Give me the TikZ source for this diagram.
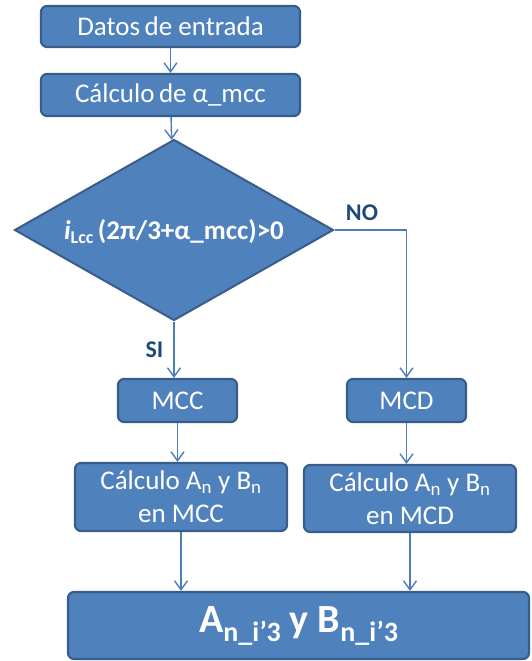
\documentclass[tikz,border=0pt]{standalone}
\usepackage{fontspec}
\setmainfont{Carlito}
\usetikzlibrary{shapes.geometric,arrows.meta}
\definecolor{boxfill}{HTML}{4F81BD}
\definecolor{boxedge}{HTML}{385D8A}
\definecolor{wire}{HTML}{4A7EBB}
\definecolor{labelblue}{HTML}{1F497D}
\tikzset{
  stepbox/.style={draw=boxedge, line width=2.2pt, fill=boxfill, rounded corners=6pt,
    text=white, align=center, inner sep=0pt, font=\fontsize{27}{29}\selectfont},
  decision/.style={diamond, draw=boxedge, line width=2pt, fill=boxfill, inner sep=0pt},
  decisiontext/.style={text=white, inner sep=0pt, font=\bfseries\fontsize{27}{29}\selectfont},
  flow/.style={draw=wire, line width=1.4pt, -{Straight Barb[length=9pt,width=13pt,line width=1.4pt]}},
  branch/.style={text=labelblue, font=\bfseries\fontsize{24}{26}\selectfont},
}
\begin{document}
\begin{tikzpicture}[x=1pt,y=-1pt]
\useasboundingbox (0,0) rectangle (531,661);
\node[stepbox, minimum width=259pt, minimum height=41pt] (datos) at (170.5,26.5) {Datos\,de entrada};
\node[stepbox, minimum width=259pt, minimum height=42pt] (alpha) at (170.5,95) {Cálculo\,de α\_mcc};
% decision diamond of fixed size, with its condition set on top
\node[decision, minimum width=319pt, minimum height=181pt] (cond) at (174,230) {};
\node[decisiontext] (condtext) at (174,232)
  {\textit{i}\raisebox{-4pt}{\fontsize{18}{20}\selectfont Lcc}\,(2π/3+α\_mcc)>0};
\node[stepbox, minimum width=119pt, minimum height=43pt] (mcc) at (177.5,400.5) {MCC};
\node[stepbox, minimum width=119pt, minimum height=43pt] (mcd) at (406.5,400.5) {MCD};
\node[stepbox, minimum width=212pt, minimum height=68pt, font=\fontsize{27}{33}\selectfont] (calcc) at (181,497)
  {Cálculo A\textsubscript{n} y B\textsubscript{n}\\en MCC};
\node[stepbox, minimum width=212pt, minimum height=67pt, font=\fontsize{27}{33}\selectfont] (calcd) at (410,498.5)
  {Cálculo A\textsubscript{n} y B\textsubscript{n}\\en MCD};
\node[stepbox, minimum width=461pt, minimum height=67pt, font=\bfseries\fontsize{40}{42}\selectfont] (final) at (298.5,625.5)
  {A\raisebox{-9pt}{\fontsize{28}{30}\selectfont n\_i’3} y B\raisebox{-9pt}{\fontsize{28}{30}\selectfont n\_i’3}};

\draw[flow] (datos) -- (alpha);
\draw[flow] (alpha) -- (cond);
\draw[flow] (cond.south) -- (cond.south |- mcc.north);
\draw[flow] (cond.east) -| (mcd.north);
\draw[flow] (mcc) -- (mcc |- calcc.north);
\draw[flow] (mcd) -- (mcd |- calcd.north);
\draw[flow] (calcc.south) -- (calcc.south |- final.north);
\draw[flow] (calcd.south) -- (calcd.south |- final.north);

\node[branch] (no) at (362,213) {NO};
\node[branch] (si) at (154.5,350) {SI};
\end{tikzpicture}
\end{document}
